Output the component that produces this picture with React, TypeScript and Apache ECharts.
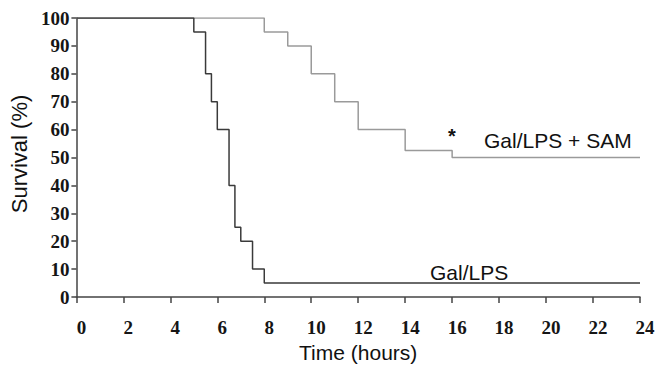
import React, { useEffect, useRef } from "react";
import * as echarts from "echarts";

const xTicks = [0, 2, 4, 6, 8, 10, 12, 14, 16, 18, 20, 22, 24];
const yTicks = [0, 10, 20, 30, 40, 50, 60, 70, 80, 90, 100];

const galLpsTimes = [0, 5, 5.5, 5.75, 6, 6.5, 6.75, 7, 7.5, 8, 24];
const galLpsSurvival = [100, 95, 80, 70, 60, 40, 25, 20, 10, 5, 5];

const galLpsSamTimes = [0, 8, 9, 10, 11, 12, 14, 16, 24];
const galLpsSamSurvival = [100, 95, 90, 80, 70, 60, 52.5, 50, 50];

const seriesNames = ["Gal/LPS", "Gal/LPS + SAM"];
const xTitle = "Time (hours)";
const yTitle = "Survival (%)";

const pairs = (xs: number[], ys: number[]) => xs.map((x, i) => [x, ys[i]]);

export default function App() {
  const ref = useRef<HTMLDivElement>(null);
  useEffect(() => {
    if (!ref.current) return;
    const chart = echarts.init(ref.current, null, { renderer: "svg" });
    const tickFont = {
      fontFamily: "Liberation Serif",
      fontWeight: "bold" as const,
      fontSize: 19,
      color: "#151515",
    };
    chart.setOption({
      animation: false,
      backgroundColor: "#fff",
      grid: { left: 75, right: 26, top: 18, bottom: 66, containLabel: false },
      xAxis: {
        type: "value",
        min: xTicks[0],
        max: xTicks[xTicks.length - 1],
        interval: 2,
        name: xTitle,
        nameLocation: "middle",
        nameGap: 45,
        nameTextStyle: { fontFamily: "Liberation Sans", fontSize: 21, color: "#111" },
        axisLine: { show: true, lineStyle: { color: "#444", width: 1.5 } },
        axisTick: { show: true, length: 6, lineStyle: { color: "#444", width: 1.5 } },
        axisLabel: { ...tickFont, margin: 21, padding: [0, 0, 0, 10] },
        splitLine: { show: false },
      },
      yAxis: {
        type: "value",
        min: yTicks[0],
        max: yTicks[yTicks.length - 1],
        interval: 10,
        name: yTitle,
        nameLocation: "middle",
        nameGap: 33,
        nameTextStyle: {
          fontFamily: "Liberation Sans",
          fontSize: 22,
          color: "#111",
          padding: [0, 0, 0, 7],
        },
        axisLine: { show: true, lineStyle: { color: "#444", width: 1.5 } },
        axisTick: { show: true, length: 5, lineStyle: { color: "#444", width: 1.5 } },
        axisLabel: { ...tickFont, margin: 7 },
        splitLine: { show: false },
      },
      series: [
        {
          name: seriesNames[0],
          type: "line",
          step: "end",
          symbol: "none",
          data: pairs(galLpsTimes, galLpsSurvival),
          lineStyle: { color: "#3a3a3a", width: 1.5 },
          z: 3,
        },
        {
          name: seriesNames[1],
          type: "line",
          step: "end",
          symbol: "none",
          data: pairs(galLpsSamTimes, galLpsSamSurvival),
          lineStyle: { color: "#9a9a9a", width: 1.5 },
          z: 2,
        },
      ],
      graphic: [
        {
          type: "text",
          left: 430,
          top: 262,
          style: { text: seriesNames[0], font: "21px 'Liberation Sans'", fill: "#111" },
        },
        {
          type: "text",
          left: 484,
          top: 130,
          style: { text: seriesNames[1], font: "21px 'Liberation Sans'", fill: "#111" },
        },
        {
          type: "text",
          left: 448,
          top: 126,
          style: { text: "*", font: "bold 20px 'Liberation Sans'", fill: "#111" },
        },
      ],
    });
    return () => chart.dispose();
  }, []);
  return (
    <div
      ref={ref}
      style={{ position: "absolute", left: 0, top: 0, width: 666, height: 368 }}
    />
  );
}
